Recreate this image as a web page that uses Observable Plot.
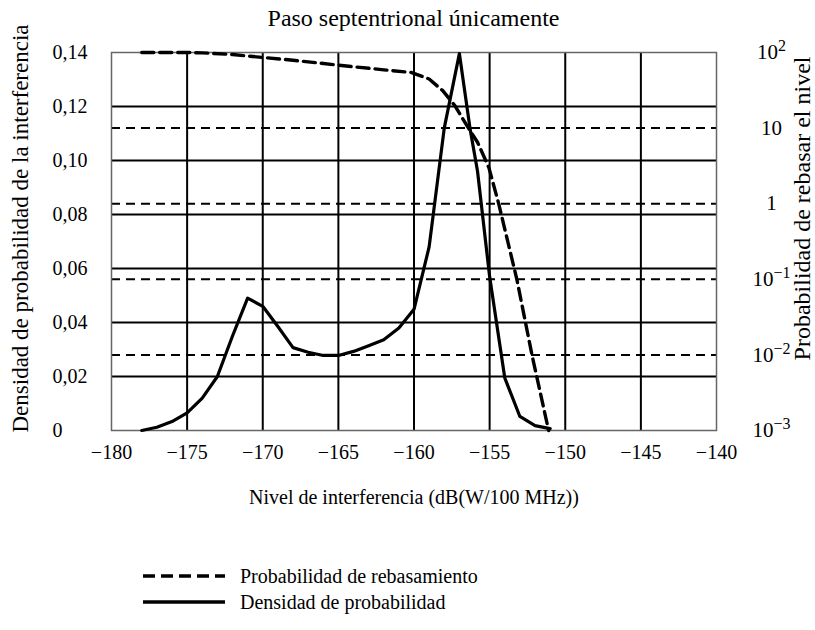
<!DOCTYPE html>
<html>
<head>
<meta charset="utf-8">
<script src="https://cdn.jsdelivr.net/npm/d3@7"></script>
<script src="https://cdn.jsdelivr.net/npm/@observablehq/plot@0.6"></script>
<style>
  body { margin: 0; background: #fff; font-family: "Liberation Serif", "Times New Roman", serif; color: #000; }
  #title { height: 36px; line-height: 36px; font-size: 24px; text-align: center; padding-left: 12px; width: 803px; white-space: nowrap; }
  #legend { position: absolute; left: 0; top: 563px; font-size: 20px; width: 815px; }
  .row { position: relative; height: 26px; }
  .row svg { position: absolute; left: 143px; top: 3px; }
  .row span { position: absolute; left: 240px; top: 0; line-height: 26px; white-space: nowrap; }
</style>
</head>
<body>
<div id="title">Paso septentrional únicamente</div>
<div id="chart"></div>
<div id="legend"></div>
<script>
// ---- data ----
const densityX = [-178, -177, -176, -175, -174, -173, -172, -171, -170, -169, -168, -167, -166, -165, -164, -163, -162, -161, -160, -159, -158, -157, -156.3, -155.8, -155, -154, -153, -152, -151];
const densityY = [0, 0.0012, 0.0033, 0.0065, 0.012, 0.020, 0.035, 0.049, 0.046, 0.0385, 0.0307, 0.029, 0.0278, 0.0278, 0.0293, 0.0314, 0.0336, 0.038, 0.0449, 0.068, 0.112, 0.1396, 0.112, 0.096, 0.057, 0.0195, 0.0052, 0.0018, 0.0007];

const exceedX = [-178, -175, -174, -172, -170, -168, -165, -162, -160.2, -159, -158.1, -157.3, -156.5, -155.8, -155.05, -154.4, -153.2, -152.2, -151.1];
const exceedP = [100, 100, 99, 94, 86, 79, 68, 59, 54.5, 44.6, 31.3, 19.8, 10.8, 6.5, 3.0, 1.0, 0.1, 0.01, 0.001];

const xTicks = [-180, -175, -170, -165, -160, -155, -150, -145, -140];
const leftTicks = [0, 0.02, 0.04, 0.06, 0.08, 0.10, 0.12, 0.14];
const rightTickExp = [-3, -2, -1, 0, 1, 2];
const rightTickLabels = ["10^-3", "10^-2", "10^-1", "1", "10", "10^2"];

const titleLeft = "Densidad de probabilidad de la interferencia";
const titleRight = "Probabilidad de rebasar el nivel";
const titleX = "Nivel de interferencia (dB(W/100 MHz))";
const legendLabels = ["Probabilidad de rebasamiento", "Densidad de probabilidad"];

// ---- derived tables ----
const yMax = 0.14;
const logToY = e => (e + 3) / 5 * yMax;            // right log axis (1e-3..1e2) mapped on left scale
const density = densityX.map((x, i) => ({x, y: densityY[i]}));
const exceed = exceedX.map((x, i) => ({x, y: logToY(Math.log10(exceedP[i]))}));
const rightTicks = rightTickExp.map(logToY);
const solidGrid = leftTicks.filter(d => d > 0 && d < yMax);
const dashedGrid = rightTicks.filter(d => d > 0 && d < yMax);
const vGrid = xTicks.filter(d => d > -180 && d < -140);

const fmtLeft = d => d === 0 ? "0" : d.toFixed(2).replace(".", ",");
const fmtX = d => (d < 0 ? "\u2212" : "") + Math.abs(d);
const fmtRight = d => rightTickLabels[rightTicks.findIndex(t => Math.abs(t - d) < 1e-9)];

const chart = Plot.plot({
  width: 815,
  height: 480,
  marginLeft: 111,
  marginRight: 99,
  marginTop: 16,
  marginBottom: 86,
  style: {fontFamily: "Liberation Serif, Times New Roman, serif", fontSize: "20px", background: "#fff", color: "#000", overflow: "visible"},
  x: {domain: [-180, -140]},
  y: {domain: [0, yMax]},
  marks: [
    Plot.ruleY(solidGrid, {stroke: "#000", strokeWidth: 2}),
    Plot.ruleY(dashedGrid, {stroke: "#000", strokeWidth: 2, strokeDasharray: "9,6"}),
    Plot.ruleX(vGrid, {stroke: "#000", strokeWidth: 2}),
    Plot.frame({stroke: "#666", strokeWidth: 1.5}),
    Plot.axisY(leftTicks, {anchor: "left", tickSize: 0, tickPadding: 0, dx: -59, textAnchor: "start", tickFormat: fmtLeft, label: null, fontSize: 20}),
    Plot.axisY(rightTicks, {anchor: "right", tickSize: 0, tickPadding: 0, dx: 55, textAnchor: "middle", tickFormat: fmtRight, label: null, fontSize: 21}),
    Plot.axisX(xTicks, {anchor: "bottom", tickSize: 0, tickPadding: 14, tickFormat: fmtX, label: null, fontSize: 20}),
    Plot.line(exceed, {x: "x", y: "y", stroke: "#000", strokeWidth: 3.4, strokeDasharray: "12,6", curve: "linear"}),
    Plot.line(density, {x: "x", y: "y", stroke: "#000", strokeWidth: 3.2, curve: "linear"}),
    Plot.text([titleLeft], {frameAnchor: "left", text: d => d, rotate: -90, textAnchor: "middle", dx: -91, dy: -13, fontSize: 23}),
    Plot.text([titleRight], {frameAnchor: "right", text: d => d, rotate: -90, textAnchor: "middle", dx: 86, dy: -33, fontSize: 24}),
    Plot.text([titleX], {frameAnchor: "bottom", text: d => d, textAnchor: "middle", dy: 73, fontSize: 20})
  ]
});
document.getElementById("chart").appendChild(chart);

// superscripts on the right (log) axis
chart.querySelectorAll("text").forEach(t => {
  const s = t.textContent;
  const m = s.match(/^10\^(.+)$/);
  if (m) {
    t.textContent = "10";
    const ts = document.createElementNS("http://www.w3.org/2000/svg", "tspan");
    ts.setAttribute("dy", "-0.5em");
    ts.setAttribute("font-size", "16");
    ts.textContent = m[1].replace("-", "\u2212");
    t.appendChild(ts);
  }
});

// legend
const legend = document.getElementById("legend");
legendLabels.forEach((lab, i) => {
  const row = document.createElement("div");
  row.className = "row";
  const dash = i === 0 ? 'stroke-dasharray="12,6"' : '';
  row.innerHTML = `<svg width="82" height="20"><line x1="0" x2="82" y1="10" y2="10" stroke="#000" stroke-width="3.4" ${dash}/></svg><span>${lab}</span>`;
  legend.appendChild(row);
});
</script>
</body>
</html>
